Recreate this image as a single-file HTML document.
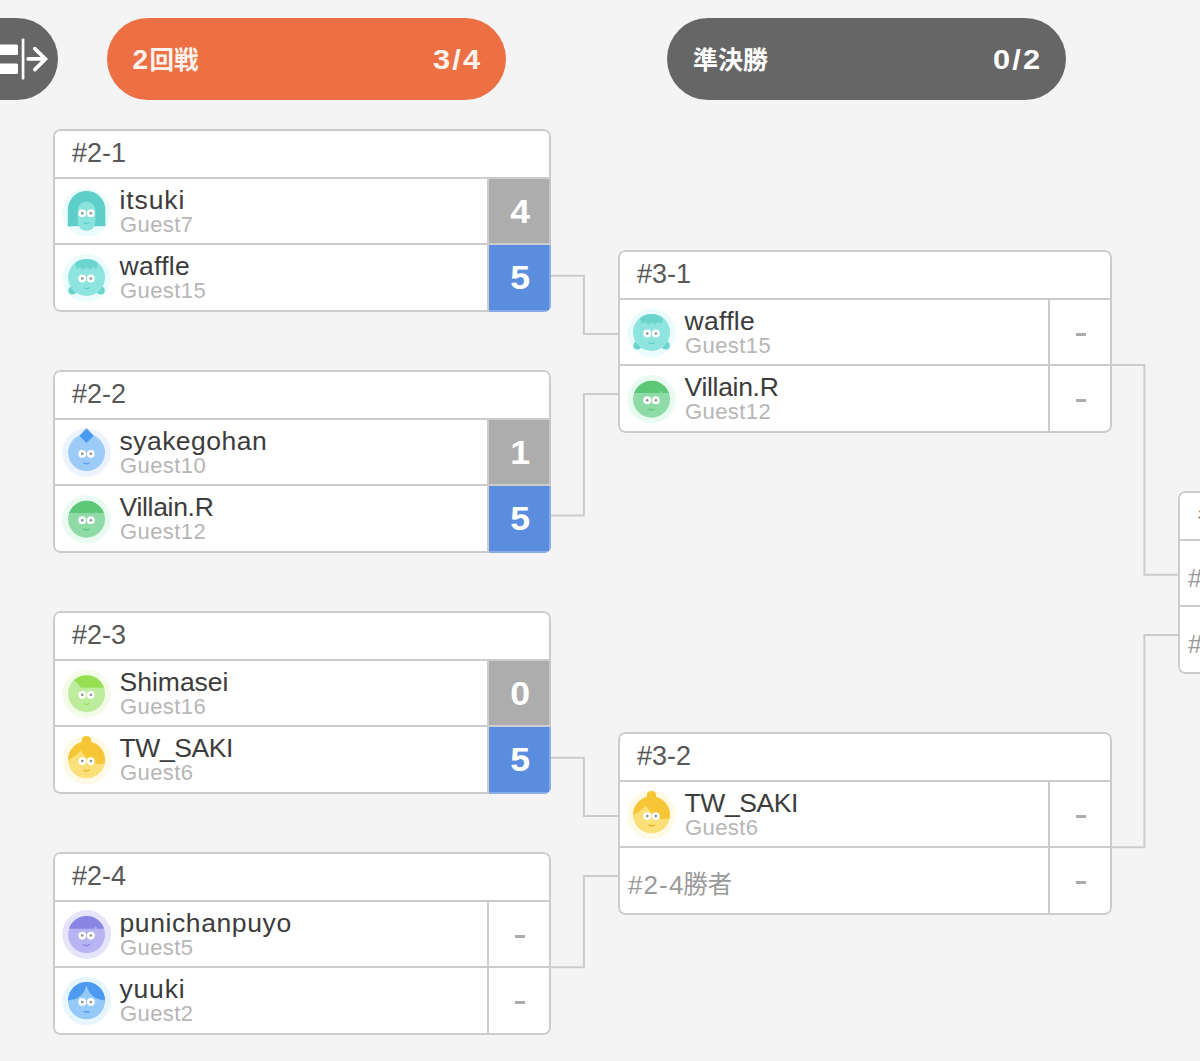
<!DOCTYPE html><html><head><meta charset="utf-8"><title>bracket</title><style>
*{margin:0;padding:0;box-sizing:border-box}
html,body{width:1200px;height:1061px;overflow:hidden;background:#f4f4f4;font-family:"Liberation Sans","Noto Sans CJK JP",sans-serif}
.abs{position:absolute}
.pill{position:absolute;top:18px;height:82px;border-radius:41px;color:#fff;font-weight:bold}
.pill .num{position:absolute;top:0;line-height:83px;font-size:28px;letter-spacing:2px;transform:scaleX(1.1);transform-origin:0 50%}
.card{position:absolute;width:498px;height:183px;border-radius:7px;background:#fff;overflow:hidden}
.card:before{content:"";position:absolute;left:0;top:0;right:0;bottom:0;border:2px solid #cccccc;border-radius:7px}
.card .in{position:absolute;left:2px;top:2px;right:2px;bottom:2px}
.card .hd{position:absolute;left:0;top:0;right:0;height:46px}
.card .hd span{position:absolute;left:17px;top:-1px;line-height:47px;font-size:27px;color:#585858;letter-spacing:0px}
.card .sep1{position:absolute;left:0;right:0;top:46px;height:2px;background:#cccccc}
.card .sep2{position:absolute;left:0;right:0;top:112px;height:2px;background:#cccccc}
.card .vsep{position:absolute;top:48px;bottom:0;width:2px;background:#cccccc}
.row{position:absolute;left:0;right:0;height:64px}
.row.r1{top:48px}
.row.r2{top:114px;height:65px}
.row .nm{position:absolute;left:64.5px;top:6px;font-size:26.5px;line-height:30px;color:#3c3c3c;white-space:nowrap}
.row .gs{position:absolute;left:65px;top:33px;font-size:22px;line-height:26px;color:#b6b6b6;white-space:nowrap;letter-spacing:0.42px}
.row svg.av{position:absolute;left:7px;top:8px;width:50px;height:50px;overflow:visible}
.sc{position:absolute;right:-2px;width:62px;top:0;bottom:0;color:#fff;font-weight:bold;font-size:33px;text-align:center;line-height:65px;padding-left:3px;border-right:2px solid rgba(255,255,255,.28)}
.sc b{display:inline-block;transform:scaleX(1.08)}
.sc.g{background:#adadad}
.sc.b{background:#5b8dde;bottom:-2px;border-bottom:2px solid rgba(255,255,255,.28)}
.dash{position:absolute;right:23.6px;top:32.6px;width:10.2px;height:3px;background:#ababab}
.ph{position:absolute;left:8px;top:21.5px;font-size:26px;line-height:30px;color:#9a9a9a;letter-spacing:1.1px;white-space:nowrap}
.ln{position:absolute;background:#cccccc}
</style></head><body><svg width="0" height="0" style="position:absolute"><defs><g id="eyes"><circle cx="-4.3" cy="0" r="3.9" fill="#fff"/><circle cx="4.3" cy="0" r="3.9" fill="#fff"/><circle cx="-4.3" cy="0" r="1.3" fill="#87908f"/><circle cx="4.3" cy="0" r="1.3" fill="#87908f"/></g>
<g id="av-itsuki">
<circle r="24.2" fill="#ecfcfc"/>
<path d="M-18.8 13.9V-2.7A18.8 18.8 0 0 1 18.8 -2.7V13.9Z" fill="#5ecfc8"/>
<rect x="-8.8" y="-11" width="17.6" height="29.4" rx="8.8" fill="#8ae3dc"/>
<use href="#eyes" y="0.8"/>
<path d="M-2.7 10.4Q0 12.2 2.7 10.4" fill="none" stroke="#5ecfc8" stroke-width="1.3" stroke-linecap="round"/>
</g>
<g id="av-waffle">
<circle r="24.2" fill="#ecfcfc"/>
<circle cx="-14.2" cy="12.4" r="4" fill="#6ad4cd"/><circle cx="14.2" cy="12.4" r="4" fill="#6ad4cd"/>
<circle cx="0" cy="-0.6" r="18.5" fill="#8ee5df"/>
<path d="M-11.5 -15.1A18.5 18.5 0 0 1 11.5 -15.1L10 -9L6.7 -11L3.4 -8.2L0 -10.8L-3.4 -8.2L-6.7 -11L-10 -9Z" fill="#6ad4cd"/>
<use href="#eyes" y="0.5"/>
<path d="M-2.7 9.8Q0 11.4 2.7 9.8" fill="none" stroke="#5ecfc8" stroke-width="1.3" stroke-linecap="round"/>
</g>
<g id="av-syake">
<circle r="24.2" fill="#eaf3fe"/>
<circle r="18.5" fill="#9ccbf8"/>
<path d="M0 -24.3L7.2 -16.9L0 -9.5L-7.2 -16.9Z" fill="#4a9af0"/>
<use href="#eyes" y="1.2"/>
<path d="M-2.6 10.4Q0 12 2.6 10.4" fill="none" stroke="#5a9ff0" stroke-width="1.3" stroke-linecap="round"/>
</g>
<g id="av-villain">
<circle r="24.2" fill="#e9fbf0"/>
<circle r="18.5" fill="#8edba8"/>
<path d="M-17.4 -6.2A18.5 18.5 0 0 1 17.4 -6.2L10.6 -6.2L9.3 -8.6L8.2 -6.2Z" fill="#5cc878"/>
<use href="#eyes" y="0.95"/>
<path d="M-2.6 9.9Q0 11.3 2.6 9.9" fill="none" stroke="#5cc878" stroke-width="1.3" stroke-linecap="round"/>
</g>
<g id="av-shima">
<circle r="24.2" fill="#f2fce9"/>
<circle r="18.5" fill="#bdec9c"/>
<path d="M-12.5 -13.6A18.5 18.5 0 0 1 17.4 -6.3L-5.2 -5.9Z" fill="#98de52"/>
<use href="#eyes" y="1.1"/>
<path d="M-2.6 10.1Q0 11.5 2.6 10.1" fill="none" stroke="#98de52" stroke-width="1.3" stroke-linecap="round"/>
</g>
<g id="av-saki">
<circle r="24.2" fill="#fffae6"/>
<circle r="18.5" fill="#fbe07a"/>
<circle cx="-0.1" cy="-19.1" r="4.8" fill="#f6c636"/>
<path d="M-18.5 0.2A18.5 18.5 0 1 1 18.15 3.6L10 4.1Q0 0 -6 -9.2Q-10.5 -3.2 -18.5 0.2Z" fill="#f6c636"/>
<use href="#eyes" y="1.3"/>
<path d="M-2.6 10.3Q0 11.9 2.6 10.3" fill="none" stroke="#efb62a" stroke-width="1.3" stroke-linecap="round"/>
</g>
<g id="av-puni">
<circle r="24.4" cx="0.1" cy="-0.1" fill="#e6e4fb"/>
<circle r="18.5" fill="#b6b4f2"/>
<path d="M-17.55 -5.9A18.5 18.5 0 0 1 17.55 -5.9L10.4 -5.9L9 -8.6L7.8 -5.9Z" fill="#8886e2"/>
<use href="#eyes" y="1.0"/>
<path d="M-3 9.9Q0 12.5 3 9.9" fill="none" stroke="#8886e2" stroke-width="1.3" stroke-linecap="round"/>
</g>
<g id="av-yuuki">
<circle r="24.2" fill="#e6f5fe"/>
<circle r="18.5" fill="#94c9f8"/>
<path d="M-18.5 -0.4A18.5 18.5 0 0 1 18.5 -0.4C8 -1.5 2.5 -6 0 -15.8C-2.5 -6 -8 -1.5 -18.5 -0.4Z" fill="#4c9bf0"/>
<use href="#eyes" y="1.15"/>
<path d="M-2.6 10.8Q0 11.5 2.6 10.8" fill="none" stroke="#4c9bf0" stroke-width="1.3" stroke-linecap="round"/>
</g>
</defs></svg><div class="pill" style="left:-41px;width:99px;background:#666"></div><svg class="abs" style="left:0;top:18px" width="60" height="82" viewBox="0 18 60 82">
<rect x="-3" y="44.6" width="21" height="10.4" rx="1.5" fill="#fff"/>
<rect x="-3" y="63.4" width="21" height="10.6" rx="1.5" fill="#fff"/>
<rect x="21.7" y="38.5" width="2.7" height="41" rx="1" fill="#fff"/>
<path d="M28.2 58.9H45M34.8 48.6L45.4 59L34.8 69.6" fill="none" stroke="#fff" stroke-width="3.7" stroke-linecap="round" stroke-linejoin="miter"/>
</svg><div class="pill" style="left:107px;width:398.5px;background:#ec7044"><svg class="abs" style="left:0;top:0" width="200" height="82" viewBox="0 0 200 82"><text x="42.6" y="50.9" font-family="&quot;Liberation Sans&quot;,&quot;Noto Sans CJK JP&quot;,sans-serif" font-size="24.5" font-weight="bold" fill="#fdf3ec">回戦</text></svg><span class="num" style="left:25.5px;font-size:28px;color:#fdf3ec;letter-spacing:0;transform:none">2</span><span class="num" style="left:325.5px;color:#fdf3ec">3/4</span></div><div class="pill" style="left:667px;width:399px;background:#666"><svg class="abs" style="left:0;top:0" width="200" height="82" viewBox="0 0 200 82"><text x="26" y="51" font-family="&quot;Liberation Sans&quot;,&quot;Noto Sans CJK JP&quot;,sans-serif" font-size="25" font-weight="bold" fill="#fff">準決勝</text></svg><span class="num" style="left:326px">0/2</span></div><svg class="abs" style="left:0;top:0" width="1200" height="1061" viewBox="0 0 1200 1061"><g fill="none" stroke="#cccccc" stroke-width="2"><polyline points="549,275.7 583.9,275.7 583.9,334 620,334"/><polyline points="549,515.5 583.9,515.5 583.9,394 620,394"/><polyline points="549,757.7 583.9,757.7 583.9,816 620,816"/><polyline points="549,967.2 583.9,967.2 583.9,876 620,876"/><polyline points="1110,365 1144.4,365 1144.4,574.8 1180,574.8"/><polyline points="1110,847.3 1144.4,847.3 1144.4,635 1180,635"/></g></svg><div class="card" style="left:53px;top:129px;width:498px"><div class="in"><div class="hd"><span>#2-1</span></div><div class="sep1"></div><div class="sep2"></div><div class="vsep" style="right:60px"></div><div class="row r1"><svg class="av" viewBox="-25 -25 50 50"><use href="#av-itsuki" transform="translate(-0.45,0.4)"/></svg><div class="nm" style="letter-spacing:0.9px">itsuki</div><div class="gs">Guest7</div><div class="sc g"><b>4</b></div></div><div class="row r2"><svg class="av" viewBox="-25 -25 50 50"><use href="#av-waffle" transform="translate(-0.45,0.0)"/></svg><div class="nm" style="letter-spacing:0.3px">waffle</div><div class="gs">Guest15</div><div class="sc b"><b>5</b></div></div></div></div><div class="card" style="left:53px;top:370px;width:498px"><div class="in"><div class="hd"><span>#2-2</span></div><div class="sep1"></div><div class="sep2"></div><div class="vsep" style="right:60px"></div><div class="row r1"><svg class="av" viewBox="-25 -25 50 50"><use href="#av-syake" transform="translate(-0.45,-0.4)"/></svg><div class="nm" style="letter-spacing:0.47px">syakegohan</div><div class="gs">Guest10</div><div class="sc g"><b>1</b></div></div><div class="row r2"><svg class="av" viewBox="-25 -25 50 50"><use href="#av-villain" transform="translate(-0.45,0.26)"/></svg><div class="nm" style="letter-spacing:-0.3px">Villain.R</div><div class="gs">Guest12</div><div class="sc b"><b>5</b></div></div></div></div><div class="card" style="left:53px;top:611px;width:498px"><div class="in"><div class="hd"><span>#2-3</span></div><div class="sep1"></div><div class="sep2"></div><div class="vsep" style="right:60px"></div><div class="row r1"><svg class="av" viewBox="-25 -25 50 50"><use href="#av-shima" transform="translate(-0.45,-0.3)"/></svg><div class="nm" style="letter-spacing:0.0px">Shimasei</div><div class="gs">Guest16</div><div class="sc g"><b>0</b></div></div><div class="row r2"><svg class="av" viewBox="-25 -25 50 50"><use href="#av-saki" transform="translate(-0.45,-0.2)"/></svg><div class="nm" style="letter-spacing:-0.4px">TW_SAKI</div><div class="gs">Guest6</div><div class="sc b"><b>5</b></div></div></div></div><div class="card" style="left:53px;top:852px;width:498px"><div class="in"><div class="hd"><span>#2-4</span></div><div class="sep1"></div><div class="sep2"></div><div class="vsep" style="right:60px"></div><div class="row r1"><svg class="av" viewBox="-25 -25 50 50"><use href="#av-puni" transform="translate(-0.45,-0.45)"/></svg><div class="nm" style="letter-spacing:0.6px">punichanpuyo</div><div class="gs">Guest5</div><div class="dash"></div></div><div class="row r2"><svg class="av" viewBox="-25 -25 50 50"><use href="#av-yuuki" transform="translate(-0.45,-0.15)"/></svg><div class="nm" style="letter-spacing:0.8px">yuuki</div><div class="gs">Guest2</div><div class="dash"></div></div></div></div><div class="card" style="left:618px;top:250px;width:494px"><div class="in"><div class="hd"><span>#3-1</span></div><div class="sep1"></div><div class="sep2"></div><div class="vsep" style="right:60px"></div><div class="row r1"><svg class="av" viewBox="-25 -25 50 50"><use href="#av-waffle" transform="translate(-0.45,0.0)"/></svg><div class="nm" style="letter-spacing:0.3px">waffle</div><div class="gs">Guest15</div><div class="dash"></div></div><div class="row r2"><svg class="av" viewBox="-25 -25 50 50"><use href="#av-villain" transform="translate(-0.45,0.26)"/></svg><div class="nm" style="letter-spacing:-0.3px">Villain.R</div><div class="gs">Guest12</div><div class="dash"></div></div></div></div><div class="card" style="left:618px;top:732px;width:494px"><div class="in"><div class="hd"><span>#3-2</span></div><div class="sep1"></div><div class="sep2"></div><div class="vsep" style="right:60px"></div><div class="row r1"><svg class="av" viewBox="-25 -25 50 50"><use href="#av-saki" transform="translate(-0.45,-0.2)"/></svg><div class="nm" style="letter-spacing:-0.4px">TW_SAKI</div><div class="gs">Guest6</div><div class="dash"></div></div><div class="row r2"><div class="ph">#2-4</div><svg class="abs" style="left:62px;top:10px" width="60" height="40" viewBox="0 0 60 40"><text x="1.2" y="34.6" font-family="&quot;Liberation Sans&quot;,&quot;Noto Sans CJK JP&quot;,sans-serif" font-size="24.5" fill="#9a9a9a">勝者</text></svg><div class="dash"></div></div></div></div><div class="card" style="left:1178px;top:491px;width:200px"><div class="in"><div class="hd"><span style="left:18.5px">#</span></div><div class="sep1"></div><div class="sep2"></div><div class="row r1"><div class="ph">#3-1</div></div><div class="row r2"><div class="ph">#3-2</div></div></div></div></body></html>
